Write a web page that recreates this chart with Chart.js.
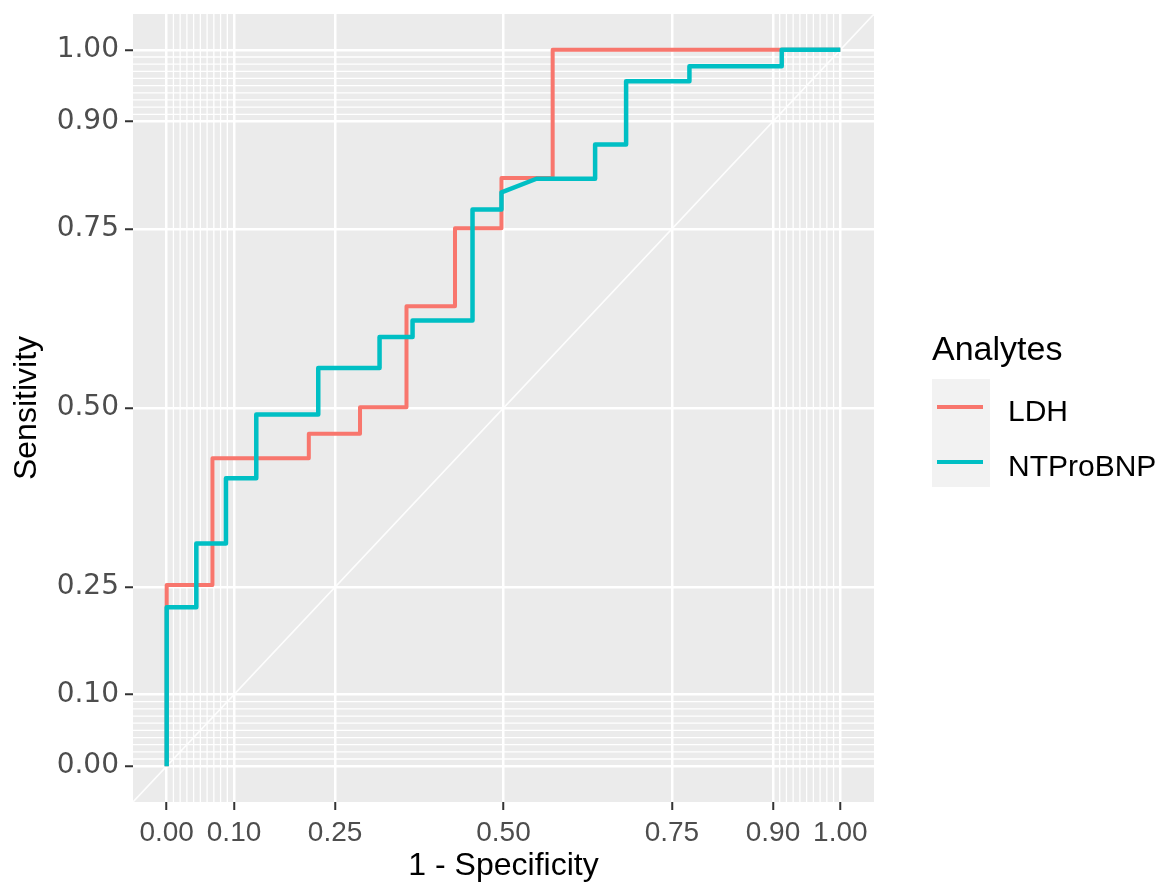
<!DOCTYPE html>
<html>
<head>
<meta charset="utf-8">
<script src="https://cdn.jsdelivr.net/npm/chart.js@4.4.0/dist/chart.umd.min.js"></script>
<style>
  html, body { margin: 0; padding: 0; background: #ffffff; }
  #wrap { position: relative; width: 1159px; height: 888px; }
</style>
</head>
<body>
<div id="wrap"><canvas id="c"></canvas></div>
<script>
// ---------------- data ----------------
const seriesNames = ['LDH', 'NTProBNP'];
// ROC vertices (1 - specificity, sensitivity)
const ldhFPR = [0, 0, 0.068, 0.068, 0.211, 0.211, 0.287, 0.287, 0.356, 0.356, 0.428, 0.428, 0.497, 0.497, 0.573, 0.573, 1];
const ldhTPR = [0, 0.253, 0.253, 0.430, 0.430, 0.464, 0.464, 0.501, 0.501, 0.642, 0.642, 0.751, 0.751, 0.821, 0.821, 1, 1];
const ntFPR  = [0, 0, 0.044, 0.044, 0.088, 0.088, 0.133, 0.133, 0.225, 0.225, 0.316, 0.316, 0.365, 0.365, 0.454, 0.454, 0.497, 0.497, 0.549, 0.636, 0.636, 0.682, 0.682, 0.776, 0.776, 0.913, 0.913, 1];
const ntTPR  = [0, 0.222, 0.222, 0.311, 0.311, 0.402, 0.402, 0.491, 0.491, 0.556, 0.556, 0.599, 0.599, 0.622, 0.622, 0.777, 0.777, 0.801, 0.820, 0.820, 0.868, 0.868, 0.956, 0.956, 0.977, 0.977, 1, 1];
const tickValues  = [0, 0.1, 0.25, 0.5, 0.75, 0.9, 1];
const minorValues = [0.01, 0.02, 0.03, 0.04, 0.05, 0.06, 0.07, 0.08, 0.09,
                     0.91, 0.92, 0.93, 0.94, 0.95, 0.96, 0.97, 0.98, 0.99];
const xTitle = '1 - Specificity';
const yTitle = 'Sensitivity';
const legendTitle = 'Analytes';

// ---------------- style ----------------
const seriesColors = ['#F8766D', '#00BFC4'];

function pts(xs, ys) { return xs.map((v, i) => ({ x: v, y: ys[i] })); }

const panelPlugin = {
  id: 'panel',
  beforeDraw(chart) {
    const { ctx, chartArea: a } = chart;
    ctx.save();
    ctx.fillStyle = '#EBEBEB';
    ctx.fillRect(a.left, a.top, a.right - a.left, a.bottom - a.top);
    ctx.restore();
  },
  beforeDatasetsDraw(chart) {
    const { ctx, chartArea: a, scales } = chart;
    const x = scales.x, y = scales.y;
    ctx.save();
    ctx.strokeStyle = '#FFFFFF';
    ctx.lineWidth = 1.3;
    minorValues.forEach(v => {
      const px = x.getPixelForValue(v);
      ctx.beginPath(); ctx.moveTo(px, a.top); ctx.lineTo(px, a.bottom); ctx.stroke();
      const py = y.getPixelForValue(v);
      ctx.beginPath(); ctx.moveTo(a.left, py); ctx.lineTo(a.right, py); ctx.stroke();
    });
    // reference diagonal (slope 1, intercept 0) across the whole panel
    ctx.beginPath();
    ctx.rect(a.left, a.top, a.right - a.left, a.bottom - a.top);
    ctx.clip();
    ctx.strokeStyle = 'rgba(255,255,255,0.9)';
    ctx.lineWidth = 1.6;
    ctx.beginPath();
    ctx.moveTo(x.getPixelForValue(x.min), y.getPixelForValue(x.min));
    ctx.lineTo(x.getPixelForValue(x.max), y.getPixelForValue(x.max));
    ctx.stroke();
    ctx.restore();
  },
  afterDraw(chart) {
    const { ctx, chartArea: a } = chart;
    const left = a.right + 58;
    ctx.save();
    ctx.fillStyle = '#000000';
    ctx.textBaseline = 'alphabetic';
    ctx.textAlign = 'left';
    ctx.font = '34px "Liberation Sans", Arial, sans-serif';
    ctx.fillText(legendTitle, left, 360);
    ctx.fillStyle = '#F2F2F2';
    ctx.fillRect(left, 379, 58, 108);
    seriesNames.forEach((name, i) => {
      const yy = 407 + i * 55;
      ctx.strokeStyle = seriesColors[i];
      ctx.lineWidth = 4;
      ctx.beginPath(); ctx.moveTo(left + 5, yy); ctx.lineTo(left + 51, yy); ctx.stroke();
      ctx.fillStyle = '#000000';
      ctx.font = '30px "Liberation Sans", Arial, sans-serif';
      ctx.fillText(name, left + 76, yy + 14);
    });
    ctx.restore();
  }
};

const majorTicks = s => { s.ticks = tickValues.map(v => ({ value: v })); };

new Chart(document.getElementById('c'), {
  type: 'scatter',
  data: {
    datasets: [
      { label: seriesNames[0], data: pts(ldhFPR, ldhTPR), showLine: true, borderColor: seriesColors[0],
        backgroundColor: seriesColors[0], borderWidth: 4, pointRadius: 0, tension: 0,
        borderJoinStyle: 'round', order: 2 },
      { label: seriesNames[1], data: pts(ntFPR, ntTPR), showLine: true, borderColor: seriesColors[1],
        backgroundColor: seriesColors[1], borderWidth: 4.5, pointRadius: 0, tension: 0,
        borderJoinStyle: 'round', order: 1 }
    ]
  },
  options: {
    responsive: true,
    maintainAspectRatio: false,
    animation: false,
    layout: { padding: { left: 0, right: 285, top: 14, bottom: 0 }, autoPadding: false },
    plugins: { legend: { display: false }, tooltip: { enabled: false } },
    scales: {
      x: {
        type: 'linear', min: -0.05, max: 1.05,
        afterBuildTicks: majorTicks,
        afterFit: s => { s.height = 86; s.paddingLeft = 0; s.paddingRight = 0; },
        border: { display: false },
        grid: { color: '#FFFFFF', lineWidth: 2.5, drawTicks: true, tickLength: 8, tickColor: '#333333', tickWidth: 2 },
        ticks: { autoSkip: false, maxRotation: 0, minRotation: 0, padding: 6, color: '#4D4D4D',
                 font: { family: 'Liberation Sans', size: 28 }, callback: v => Number(v).toFixed(2) },
        title: { display: true, text: xTitle, color: '#000000', font: { family: 'Liberation Sans', size: 32 },
                 padding: { top: 0, bottom: 3 } }
      },
      y: {
        type: 'linear', min: -0.05, max: 1.05,
        afterBuildTicks: majorTicks,
        afterFit: s => { s.width = 133; s.paddingTop = 0; s.paddingBottom = 0; },
        border: { display: false },
        grid: { color: '#FFFFFF', lineWidth: 2.5, drawTicks: true, tickLength: 8, tickColor: '#333333', tickWidth: 2 },
        ticks: { autoSkip: false, padding: 6, color: '#4D4D4D',
                 font: { family: 'DejaVu Sans', size: 28 }, callback: v => Number(v).toFixed(2) },
        title: { display: true, text: yTitle, color: '#000000', font: { family: 'Liberation Sans', size: 32 },
                 padding: { top: 8, bottom: 0 } }
      }
    }
  },
  plugins: [panelPlugin]
});
</script>
</body>
</html>
